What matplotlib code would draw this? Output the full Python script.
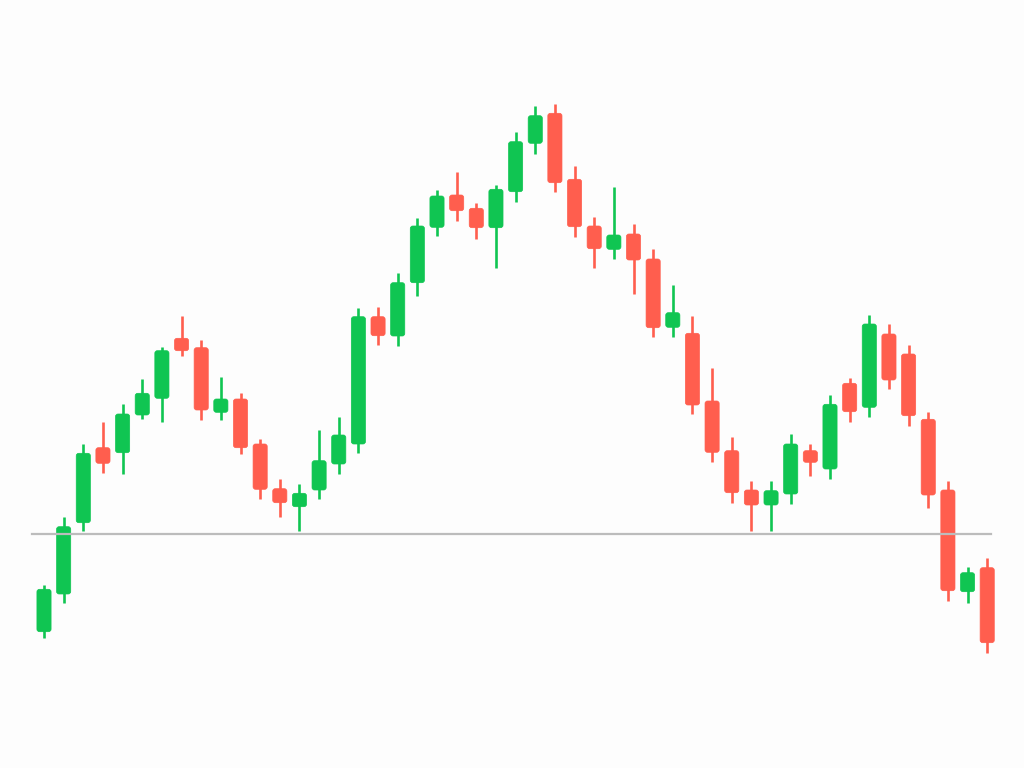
import matplotlib
matplotlib.use("Agg")
from matplotlib import pyplot as plt
from matplotlib.patches import FancyBboxPatch

# candle data (head and shoulders pattern)
opens = [136.3, 174, 245.3, 320.3, 315.3, 353, 369.7, 429.7, 420.3, 355.7,
         369, 324, 279.3, 261.3, 278, 304, 324, 451.3, 432, 485.3,
         540.7, 573, 559.7, 540.3, 576.3, 624.7, 654.7, 588.7, 542, 518.7,
         534, 509, 440.7, 434.7, 367, 317.3, 278, 263, 274, 317.3,
         299, 384.7, 360.7, 434, 414, 348.7, 278, 176.3, 200.3]
closes = [178.7, 241.3, 314.7, 304.7, 354, 374.7, 417.3, 417.3, 358, 369,
          320.3, 278.7, 265.3, 274.7, 307.3, 333, 451.3, 432.3, 485.3, 542,
          572, 557.3, 540.3, 578.7, 626.3, 652.3, 585.3, 541.3, 519.3, 533,
          508, 440.3, 455.3, 363, 315.7, 275.3, 263, 277.3, 324, 305.7,
          363.7, 356.3, 444, 388, 352.3, 273, 177.3, 195.3, 125.3]
highs = [183, 251.3, 323.7, 346.3, 363.7, 389.3, 421.3, 452.3, 428, 391.3,
         374.7, 328.7, 288.7, 284, 338, 351.3, 460.3, 461.3, 494.7, 549.7,
         578, 596.3, 564.7, 583, 635.7, 662.3, 664, 602, 551.3, 580.7,
         543.7, 518.7, 483, 452.3, 399.7, 330.7, 287.3, 287, 333.7, 324,
         373, 390.3, 453, 443.7, 423, 355.7, 287, 201.3, 209.7]
lows = [129.7, 164.7, 237.3, 295.3, 294, 348.7, 345.7, 412, 348, 348,
        313.7, 268.7, 250.7, 237.3, 268.7, 294, 314.7, 423, 422, 472,
        532, 547, 528.7, 499.7, 566.3, 614, 575.7, 531.3, 499.7, 508.7,
        474, 430.7, 430.7, 353.7, 305.7, 265.3, 237.3, 237.3, 264, 292,
        289, 345.7, 351.3, 378.7, 342.3, 259.7, 167.3, 165.3, 114.7]
neckline = 234.5

green = '#10c552'
red = '#ff5e4e'

fig = plt.figure(figsize=(10.24, 7.68), dpi=100, facecolor='#fdfdfd')
ax = fig.add_axes([0, 0, 1, 1])
ax.set_facecolor('#fdfdfd')

step = 19.65  # pixels per candle
for i in range(len(opens)):
    o, c, h, l = opens[i], closes[i], highs[i], lows[i]
    col = green if c >= o else red
    ax.vlines(i, l, h, color=col, lw=1.9, zorder=2)
    w = 0.72
    box = FancyBboxPatch((i - w / 2, min(o, c)), w, abs(c - o),
                         boxstyle="round,pad=0,rounding_size=0.13",
                         mutation_aspect=step, facecolor=col,
                         edgecolor=col, lw=0.5, zorder=3)
    ax.add_patch(box)

# neckline
ax.plot([-0.6, 48.2], [neckline, neckline], color='#bcbcbc', lw=1.6, zorder=4)

ax.set_xlim(-44 / step, (1024 - 44) / step)
ax.set_ylim(0, 768)
ax.axis('off')

plt.savefig('out.png', dpi=100, facecolor=fig.get_facecolor())
